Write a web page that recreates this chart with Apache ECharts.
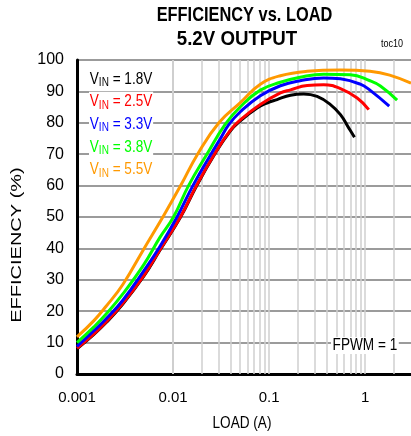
<!DOCTYPE html>
<html><head><meta charset="utf-8">
<script src="https://cdn.jsdelivr.net/npm/echarts@6/dist/echarts.min.js"></script>
<style>html,body{margin:0;padding:0;background:#fff}#c{width:411px;height:436px}</style>
</head><body><div id="c"></div>
<script>
// ---- data ----
const vinLabels = ['1.8V', '2.5V', '3.3V', '3.8V', '5.5V'];
const colors = ['#000000', '#ff0000', '#0000ff', '#00ff00', '#ff9900'];

const load18 = [0.001, 0.0015, 0.002, 0.003, 0.005, 0.0073, 0.0119, 0.0175, 0.0269, 0.0394, 0.0505, 0.075, 0.095, 0.121, 0.167, 0.229, 0.316, 0.435, 0.553, 0.676, 0.774];
const eff18  = [8.0, 12.6, 16.3, 22.3, 31.3, 39.4, 49.8, 59.8, 69.8, 77.4, 80.7, 84.7, 86.3, 87.4, 88.8, 89.2, 88.4, 85.8, 82.6, 78.3, 75.4];

const load25 = [0.001, 0.0015, 0.002, 0.003, 0.005, 0.0073, 0.0119, 0.0175, 0.0269, 0.0394, 0.0505, 0.081, 0.131, 0.167, 0.249, 0.37, 0.553, 0.826, 1.09];
const eff25  = [8.2, 12.8, 16.5, 22.5, 31.5, 39.6, 50, 60, 70, 77.6, 81.0, 85.8, 89.5, 90.5, 91.9, 92.1, 90.9, 87.9, 84.2];

const load33 = [0.001, 0.0015, 0.002, 0.003, 0.005, 0.0073, 0.011, 0.0161, 0.0248, 0.0309, 0.038, 0.0505, 0.081, 0.131, 0.21, 0.37, 0.553, 0.89, 1.12, 1.78];
const eff33  = [8.8, 13.8, 17.5, 23.5, 33, 40.6, 50, 60, 70, 74.8, 79.4, 83.6, 88.6, 91.8, 93.4, 94.3, 94, 92.3, 90.4, 85.3];

const load38 = [0.001, 0.0015, 0.002, 0.003, 0.005, 0.0073, 0.0101, 0.0145, 0.0225, 0.035, 0.0505, 0.081, 0.131, 0.21, 0.37, 0.7, 1.12, 1.44, 2.15];
const eff38  = [10, 15, 19, 25.5, 35, 43.5, 50, 60, 70, 79.6, 85.2, 90.4, 92.9, 94.5, 95.5, 95.3, 93.4, 91.7, 87.2];

const load55 = [0.001, 0.0015, 0.002, 0.003, 0.005, 0.008, 0.012, 0.018, 0.030, 0.0505, 0.081, 0.131, 0.249, 0.553, 1.12, 1.8, 3.0];
const eff55  = [11.8, 17, 21.5, 28.5, 40, 50.5, 60, 70, 80, 86.5, 92.3, 95, 96.4, 96.8, 96.4, 95.2, 92.6];

const xTickLabels = ['0.001', '0.01', '0.1', '1'];
const xMin = 0.001, xMax = 3;
const yTicks = [0, 10, 20, 30, 40, 50, 60, 70, 80, 90, 100];

// ---- chart ----
const FONT = "'Liberation Sans', Arial, sans-serif";

const curves = [
  [load18, eff18], [load25, eff25], [load33, eff33], [load38, eff38], [load55, eff55]
];

// minor vertical gridline positions (1..9 per decade)
const vGrid = [];
for (let d = -3; d <= 0; d++) {
  for (let m = 1; m <= 9; m++) {
    const v = +(m * Math.pow(10, d)).toPrecision(6);
    if (v > xMin && v < xMax) vGrid.push(v);
  }
}

const series = curves.map((c, i) => ({
  type: 'line',
  name: vinLabels[i],
  data: c[0].map((x, j) => [x, c[1][j]]),
  showSymbol: false,
  smooth: 0.45,
  lineStyle: { color: colors[i], width: 3 },
  itemStyle: { color: colors[i] },
  z: 3 + i,
  animation: false,
  silent: true
}));
series[0].markLine = {
  z: 1,
  silent: true,
  symbol: 'none',
  animation: false,
  label: { show: false },
  lineStyle: { type: 'solid', color: '#cfcfcf', width: 1.5 },
  data: vGrid.map(v => ({ xAxis: v }))
};

const legendTexts = vinLabels.map((lab, i) => ({
  type: 'text',
  x: 89, y: 79 + 22.7 * i,
  scaleX: 0.8,
  z: 20,
  style: {
    text: '{v|V}{s|IN}{v| = ' + lab + '}',
    verticalAlign: 'middle',
    backgroundColor: '#fff',
    padding: [0, 1, 0, 1],
    rich: {
      v: { fontSize: 17, fontFamily: FONT, fill: colors[i], lineHeight: 20, verticalAlign: 'middle' },
      s: { fontSize: 12.5, fontFamily: FONT, fill: colors[i], lineHeight: 14, verticalAlign: 'bottom' }
    }
  }
}));

const option = {
  backgroundColor: '#fff',
  animation: false,
  grid: { left: 77, top: 60, width: 334, height: 314, containLabel: false },
  xAxis: [{
    type: 'log', logBase: 10, min: xMin, max: xMax,
    axisLine: { show: true, onZero: false, lineStyle: { color: '#000', width: 3 } },
    axisTick: { show: false },
    splitLine: { show: false },
    axisLabel: {
      fontSize: 15, fontFamily: FONT, color: '#000', margin: 16,
      showMaxLabel: false,
      formatter: v => xTickLabels.find(s => Math.abs(Math.log10(Number(s)) - Math.log10(v)) < 1e-6) || ''
    }
  }, {
    type: 'log', logBase: 10, min: xMin, max: xMax, position: 'top',
    axisLine: { show: true, lineStyle: { color: '#000', width: 2 } },
    axisTick: { show: false }, axisLabel: { show: false }, splitLine: { show: false }
  }],
  yAxis: {
    type: 'value', min: yTicks[0], max: yTicks[yTicks.length - 1], interval: yTicks[1] - yTicks[0],
    axisLine: { show: true, onZero: false, lineStyle: { color: '#000', width: 3 } },
    axisTick: { show: false },
    splitLine: { show: true, lineStyle: { color: '#7a7a7a', width: 1.5 } },
    axisLabel: { fontSize: 16, fontFamily: FONT, color: '#000', margin: 13 }
  },
  series: series,
  graphic: [
    { type: 'text', x: 244.5, y: 15.5, scaleX: 0.78, z: 20, style: { text: 'EFFICIENCY vs. LOAD', fontSize: 21, fontWeight: 'bold', fontFamily: FONT, fill: '#000', align: 'center', verticalAlign: 'middle' } },
    { type: 'text', x: 237, y: 39.5, scaleX: 0.89, z: 20, style: { text: '5.2V OUTPUT', fontSize: 21, fontWeight: 'bold', fontFamily: FONT, fill: '#000', align: 'center', verticalAlign: 'middle' } },
    { type: 'text', x: 403, y: 44, scaleX: 0.82, z: 20, style: { text: 'toc10', fontSize: 11, fontFamily: FONT, fill: '#000', align: 'right', verticalAlign: 'middle' } },
    { type: 'text', x: 17, y: 245, rotation: Math.PI / 2, scaleY: 0.75, z: 20, style: { text: 'EFFICIENCY (%)', fontSize: 20, fontFamily: FONT, fill: '#000', align: 'center', verticalAlign: 'middle' } },
    { type: 'text', x: 242, y: 423, scaleX: 0.8, z: 20, style: { text: 'LOAD (A)', fontSize: 17, fontFamily: FONT, fill: '#000', align: 'center', verticalAlign: 'middle' } },
    { type: 'text', x: 331, y: 345.5, scaleX: 0.8, z: 20, style: { text: 'FPWM = 1', fontSize: 17, fontFamily: FONT, fill: '#000', verticalAlign: 'middle', backgroundColor: '#fff', padding: [0, 2, 0, 2] } }
  ].concat(legendTexts)
};

const chart = echarts.init(document.getElementById('c'), null, { renderer: 'canvas' });
chart.setOption(option);
</script>
</body></html>
